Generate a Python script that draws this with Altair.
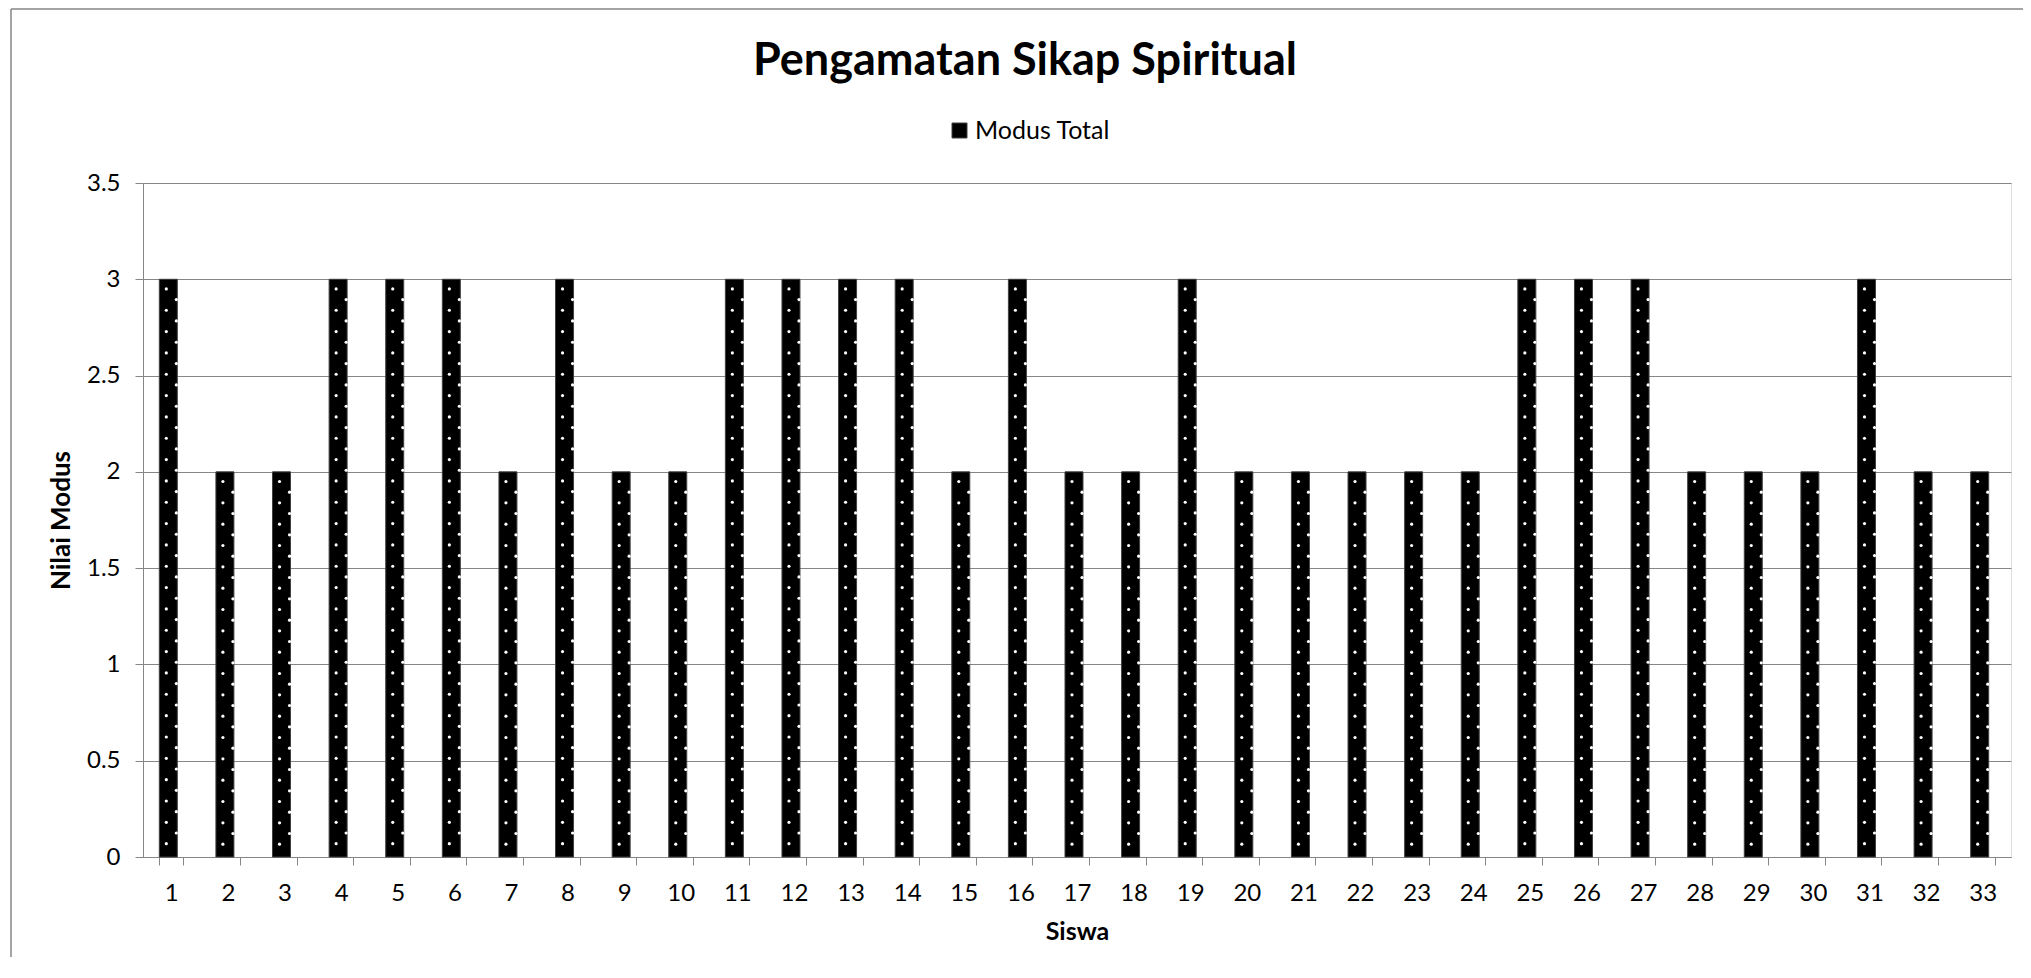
import altair as alt
import pandas as pd

# ---- data ----
siswa = list(range(1, 34))
modus_total = [3, 2, 2, 3, 3, 3, 2, 3, 2, 2, 3, 3, 3, 3, 2, 3, 2, 2, 3, 2,
               2, 2, 2, 2, 3, 3, 3, 2, 2, 2, 3, 2, 2]
series_name = ["Modus Total"] * len(siswa)
y_ticks = [0, 0.5, 1, 1.5, 2, 2.5, 3, 3.5]

df = pd.DataFrame({"Siswa": siswa, "Nilai": modus_total, "Seri": series_name})
frame_df = pd.DataFrame({"k": [0]})

W, H = 1868, 674
PAD_L, PAD_T = 135, 175
FONT = "Lato"
GRAY = "#868686"
DOT_STEP = 0.0554  # spacing of the dotted fill texture

x_enc = alt.X(
    "Siswa:O",
    title="Siswa",
    scale=alt.Scale(paddingInner=0.576, paddingOuter=0.288),
    axis=alt.Axis(labelAngle=0, tickBand="extent", tickSize=8, tickColor=GRAY,
                  domainColor=GRAY, labelFont=FONT, labelFontSize=24,
                  labelColor="black", labelPadding=16, titleFont=FONT,
                  titleFontSize=25, titleFontWeight="bold", titleColor="black",
                  titlePadding=14, grid=False),
)
y_enc = alt.Y(
    "Nilai:Q",
    title="Nilai Modus",
    scale=alt.Scale(domain=[0, 3.5], nice=False, zero=True),
    axis=alt.Axis(values=y_ticks, format="~g", tickSize=8, tickColor=GRAY,
                  domainColor=GRAY, gridColor=GRAY, grid=True,
                  labelFont=FONT, labelFontSize=24, labelColor="black",
                  labelPadding=15, titleFont=FONT, titleFontSize=26,
                  titleFontWeight="bold", titleColor="black", titlePadding=12),
)

bars = alt.Chart(df).mark_bar(stroke="#404040", strokeWidth=1).encode(
    x=x_enc,
    y=y_enc,
    color=alt.Color(
        "Seri:N",
        scale=alt.Scale(range=["#000000"]),
        legend=alt.Legend(orient="none", legendX=804, legendY=-65, title=None,
                          symbolType="square", symbolSize=225,
                          symbolStrokeColor="#404040", symbolStrokeWidth=1,
                          labelFont=FONT, labelFontSize=25, labelColor="black",
                          labelOffset=3, padding=0),
    ),
)

dots = (
    alt.Chart(df)
    .transform_calculate(k=f"sequence(0, floor(datum.Nilai / {DOT_STEP} - 0.4))")
    .transform_flatten(["k"])
    .transform_calculate(
        ypos=f"datum.Nilai - (datum.k + 0.9) * {DOT_STEP}",
        col="datum.k % 2",
    )
    .mark_circle(size=10, color="#ffffff", opacity=1)
    .encode(
        x=alt.X("Siswa:O"),
        xOffset=alt.XOffset("col:N", scale=alt.Scale(paddingInner=1, paddingOuter=0.7)),
        y=alt.Y("ypos:Q"),
    )
)

# outer chart frame (only the left and top edges fall inside the picture)
frame_left = alt.Chart(frame_df).mark_rule(color=GRAY, strokeWidth=1.5).encode(
    x=alt.value(-132), y=alt.value(-174), y2=alt.value(900),
)
frame_top = alt.Chart(frame_df).mark_rule(color=GRAY, strokeWidth=1.5).encode(
    x=alt.value(-132), x2=alt.value(1900), y=alt.value(-174),
)

chart = (
    alt.layer(frame_left, frame_top, bars, dots)
    .properties(
        width=W,
        height=H,
        padding={"left": PAD_L, "top": PAD_T, "right": 12, "bottom": 100},
        autosize=alt.AutoSizeParams(type="none"),
        title=alt.TitleParams(
            "Pengamatan Sikap Spiritual", font=FONT, fontSize=45,
            fontWeight="bold", color="black", anchor="middle",
            baseline="alphabetic", dx=-52, offset=-111.75,
        ),
    )
    .configure_view(stroke=None)
    .configure(background="white")
)

chart.save("out.html", embed_options={"renderer": "svg", "actions": False})
